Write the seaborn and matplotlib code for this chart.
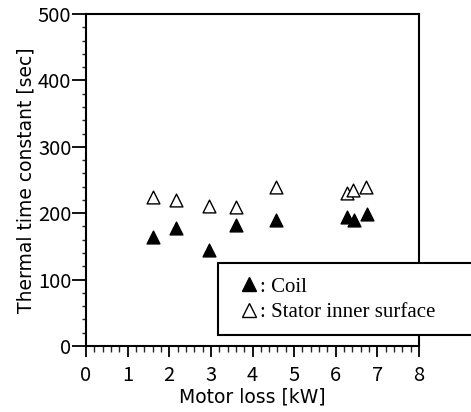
import matplotlib
matplotlib.use("Agg")
import matplotlib.pyplot as plt
from matplotlib import font_manager
import seaborn as sns
import pandas as pd
from matplotlib.patches import Rectangle
from matplotlib.lines import Line2D
from matplotlib.ticker import MultipleLocator

# Data
coil_loss = [1.60, 2.16, 2.96, 3.60, 4.56, 6.28, 6.44, 6.74]
coil_tau = [164, 178, 144, 182, 190, 194, 190, 199]
stator_loss = [1.60, 2.16, 2.96, 3.60, 4.56, 6.28, 6.42, 6.72]
stator_tau = [225, 220, 211, 210, 239, 231, 235, 240]
series_labels = [": Coil", ": Stator inner surface"]

df_coil = pd.DataFrame({"loss": coil_loss, "tau": coil_tau})
df_stat = pd.DataFrame({"loss": stator_loss, "tau": stator_tau})

sns.set_style("ticks")
plt.rcParams["font.family"] = ["DejaVu Sans"]
plt.rcParams["text.color"] = "black"
plt.rcParams["axes.labelcolor"] = "black"

names = {f.name for f in font_manager.fontManager.ttflist}
tick_font = "Noto Sans CJK JP" if "Noto Sans CJK JP" in names else "DejaVu Sans"
tick_size = 14.5 if tick_font == "Noto Sans CJK JP" else 13

fig = plt.figure(figsize=(4.71, 4.12), dpi=100)
ax = fig.add_axes([0.1826, 0.1602, 0.7070, 0.8058])

sns.scatterplot(data=df_coil, x="loss", y="tau", ax=ax, marker="^", s=85,
                color="black", edgecolor="black", linewidth=1.0, zorder=3)
sns.scatterplot(data=df_stat, x="loss", y="tau", ax=ax, marker="^", s=85,
                facecolor="white", edgecolor="black", linewidth=1.0, zorder=3)

ax.set_xlim(0, 8)
ax.set_ylim(0, 500)
ax.xaxis.set_major_locator(MultipleLocator(1))
ax.xaxis.set_minor_locator(MultipleLocator(0.2))
ax.yaxis.set_major_locator(MultipleLocator(100))
ax.yaxis.set_minor_locator(MultipleLocator(20))
ax.tick_params(which="major", direction="out", width=1.3,
               colors="black", top=False, right=False)
ax.tick_params(axis="x", which="major", length=8, pad=6)
ax.tick_params(axis="y", which="major", length=10, pad=0.5)
ax.tick_params(axis="x", which="minor", direction="out", length=4.5, width=1.0, top=False)
ax.tick_params(axis="y", which="minor", direction="out", length=3, width=1.0, right=False)
for lab in ax.get_xticklabels() + ax.get_yticklabels():
    lab.set_fontfamily(tick_font)
    lab.set_fontsize(tick_size)
for sp in ax.spines.values():
    sp.set_visible(True)
    sp.set_linewidth(1.5)
    sp.set_color("black")

ax.set_xlabel("Motor loss [kW]", fontsize=13.5, labelpad=1)
ax.set_ylabel("Thermal time constant [sec]", fontsize=13.5, labelpad=2)

# legend box extending past figure edge
rect = Rectangle((218 / 471, 1 - 335 / 412), 0.6, (335 - 263) / 412,
                 transform=fig.transFigure, facecolor="white", edgecolor="black",
                 linewidth=1.5, zorder=10, clip_on=False)
fig.patches.append(rect)

handles = [
    Line2D([], [], marker="^", linestyle="none", markersize=10.5,
           markerfacecolor="black", markeredgecolor="black"),
    Line2D([], [], marker="^", linestyle="none", markersize=10.5,
           markerfacecolor="white", markeredgecolor="black", markeredgewidth=1.0),
]
leg = fig.legend(handles, series_labels, loc="upper left",
                 bbox_to_anchor=(238 / 471, 1 - 277 / 412),
                 frameon=False, handletextpad=0.0, handlelength=1.07,
                 labelspacing=0.3, borderaxespad=0, borderpad=0,
                 prop={"family": "Liberation Serif", "size": 15})
leg.set_zorder(11)

fig.savefig("out.png", dpi=100)
